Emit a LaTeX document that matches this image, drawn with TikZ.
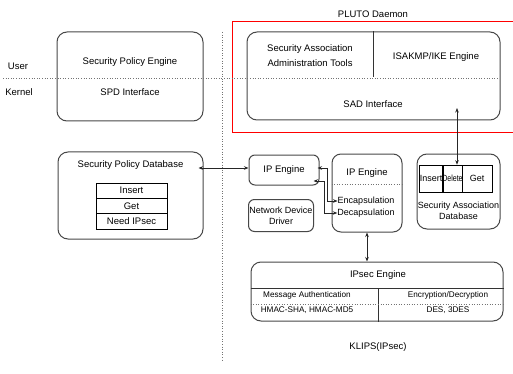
\documentclass[tikz,border=0pt]{standalone}
\usepackage{fontspec}
\usepackage{graphicx}
\setmainfont{Liberation Sans}
\usetikzlibrary{arrows.meta,calc}
\newcommand\dfont{\fontsize{9.5}{11}\selectfont}
\newcommand\nfont{\fontsize{9}{11}\selectfont}
\newcommand\sfont{\fontsize{8.2}{10}\selectfont}
\begin{document}
\begin{tikzpicture}[x=1pt,y=-1pt,
 box/.style={draw=black!72, line width=1pt, rounded corners=10pt, inner sep=0pt, font=\dfont, align=center},
 sbox/.style={draw=black!72, line width=1pt, rounded corners=6pt, inner sep=0pt, font=\dfont, align=center},
 cell/.style={draw=black, line width=0.6pt, inner sep=0pt, font=\dfont},
 txt/.style={inner sep=0pt, font=\dfont, align=center},
 stxt/.style={inner sep=0pt, font=\sfont, align=center},
 dline/.style={draw=black!55, dotted, line width=0.6pt},
 sline/.style={draw=black!80, line width=0.9pt},
 arr/.style={{Stealth[length=4.5pt,width=3.5pt]}-{Stealth[length=4.5pt,width=3.5pt]}, line width=0.7pt, draw=black!85},
]
\path[use as bounding box, fill=white] (0,0) rectangle (513,374);

% user / kernel separators
\coordinate (ul) at (3,78);
\coordinate (ur) at (498,78);
\coordinate (vt) at (222,32);
\coordinate (vb) at (222,362);
\draw[dline] (vt) -- (vb);
\node[txt] (user) at (18,66) {User};
\node[txt] (kern) at (19,92) {Kernel};

% Security Policy Engine
\node[box, minimum width=146pt, minimum height=89pt] (spe) at (130,76.5) {};
\node[txt] (spet) at (130,62) {Security Policy Engine};
\node[txt] (spdi) at (130,92) {SPD Interface};

% PLUTO daemon
\node[txt] (plutot) at (373,14) {PLUTO Daemon};
\draw[red, line width=1pt] (514,22) -- (232,22) -- (232,133) -- (514,133);
\node[box, minimum width=253pt, minimum height=88pt] (pluto) at (373.5,76) {};
\coordinate (pdiv) at (373,77);
\draw[sline] (pdiv |- pluto.north) -- (pdiv);
\node[txt, font=\fontsize{9.5}{15}\selectfont] (saat) at (310,55.5) {Security Association\\Administration Tools};
\node[txt] (isakmp) at (436,57) {ISAKMP/IKE Engine};
\node[txt] (sadi) at (373,104) {SAD Interface};
\draw[dline] (ul) -- (ur);

% Security Policy Database
\node[box, minimum width=145pt, minimum height=87pt] (spd) at (130.5,195.5) {};
\node[txt] (spdt) at (130.5,165) {Security Policy Database};
\node[cell, minimum width=71pt, minimum height=15.3pt] (ins) at (131.5,190.7) {Insert};
\node[cell, minimum width=71pt, minimum height=15.3pt] (get) at (131.5,206) {Get};
\node[cell, minimum width=71pt, minimum height=15.3pt] (need) at (131.5,221.3) {Need IPsec};

% IP engines
\node[sbox, minimum width=70pt, minimum height=30pt] (ipl) at (284,170) {IP Engine};
\node[sbox, font=\nfont, minimum width=65pt, minimum height=32pt] (ndd) at (281,215.5) {Network Device\\Driver};
\node[box, rounded corners=9pt, minimum width=70pt, minimum height=78pt] (ipr) at (367,193) {};
\node[txt] (iprt) at (367,173) {IP Engine};
\draw[dline] ($(ipr.west)+(0,-9)$) -- ($(ipr.east)+(0,-9)$);
\node[txt, font=\nfont] (enc) at (366,201) {Encapsulation};
\node[txt, font=\nfont] (dec) at (366,213) {Decapsulation};

% SA database
\node[box, minimum width=83pt, minimum height=75pt] (sad) at (458.5,191.5) {};
\node[cell, font=\nfont, minimum width=24pt, minimum height=27pt] (sins) at (431,178.5) {Insert};
\node[cell, font=\nfont, minimum width=19pt, minimum height=27pt] (sdel) at (452.5,178.5) {\scalebox{0.78}[1]{Delete}};
\node[cell, font=\nfont, minimum width=30pt, minimum height=27pt] (sget) at (477,178.5) {Get};
\node[txt, font=\nfont] (sadt) at (458.5,211) {Security Association\\Database};

% IPsec engine
\node[box, minimum width=252pt, minimum height=59pt] (ipsec) at (377,291.5) {};
\node[txt] (ipst) at (378,275) {IPsec Engine};
\draw[sline] ($(ipsec.west)+(0,-3.5)$) -- ($(ipsec.east)+(0,-3.5)$);
\draw[sline] ($(ipsec.south)+(1,0)$) -- ++(0,-33);
\draw[dline] ($(ipsec.west)+(0,12.5)$) -- ($(ipsec.east)+(0,12.5)$);
\node[stxt] (mauth) at (307,295) {Message Authentication};
\node[stxt] (encdec) at (448,295) {Encryption/Decryption};
\node[stxt] (hmac) at (307,310) {HMAC-SHA, HMAC-MD5};
\node[stxt] (des) at (448,310) {DES, 3DES};
\node[txt] (klips) at (378,347) {KLIPS(IPsec)};

% connectors
\coordinate (a1) at ($(ipl.west)+(0,-2)$);
\draw[arr, shorten >=-5pt] (a1) -- (a1 -| spd.east);
\coordinate (c1) at ($(ipl.east)+(-2,-2)$);
\coordinate (c2) at ($(ipl.east)+(-6,11)$);
\draw[arr] (c1) -- ++(10,0) |- (enc.west);
\draw[arr] (c2) -- ++(11,0) |- (dec.west);
\coordinate (sadp) at (457,108);
\draw[arr] (sadp) -- (sadp |- sdel.north);
\draw[arr] (ipr.south) -- (ipr.south |- ipsec.north);
\end{tikzpicture}
\end{document}
